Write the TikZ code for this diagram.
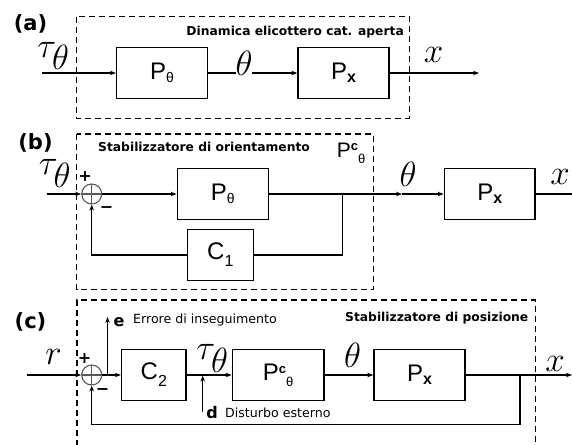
\RequirePackage{fix-cm}
\documentclass[tikz,border=0pt]{standalone}
\usepackage{fontspec}
\usepackage{graphicx}
\setmainfont{Liberation Sans}
\newfontfamily\dvs{DejaVu Sans}
\usetikzlibrary{arrows.meta}
\newcommand\blab[3][-3bp]{{\fontsize{24bp}{26bp}\selectfont #2}\raisebox{#1}{\fontsize{14bp}{16bp}\selectfont #3}}
\newcommand\blabc[1][24bp]{{\fontsize{#1}{26bp}\selectfont P}\raisebox{7bp}{\fontsize{13bp}{15bp}\selectfont\bfseries c}\raisebox{-6bp}{\fontsize{13bp}{15bp}\selectfont θ}}
\tikzset{
  blk/.style={draw, line width=1.5bp, inner sep=0pt, minimum height=51bp},
  sig/.style={line width=1.3bp},
  arr/.style={sig, -{Stealth[length=6bp,width=4.5bp]}},
  frame/.style={line width=1.5bp, dash pattern=on 6bp off 4bp},
  mth/.style={font=\fontsize{35bp}{40bp}\selectfont, inner sep=0pt},
  btext/.style={font=\dvs\bfseries\fontsize{12.3bp}{14bp}\selectfont, inner sep=0pt},
  rtext/.style={font=\dvs\fontsize{12.6bp}{14bp}\selectfont, inner sep=0pt},
  plab/.style={font=\dvs\bfseries\fontsize{21bp}{24bp}\selectfont, inner sep=0pt},
  sgn/.style={font=\dvs\bfseries\fontsize{16bp}{18bp}\selectfont, inner sep=0pt},
  sumc/.style={circle, draw=black!65, line width=1.1bp, minimum size=20bp, inner sep=0pt,
    path picture={\draw[black!65, line width=1.1bp] (path picture bounding box.north) -- (path picture bounding box.south) (path picture bounding box.west) -- (path picture bounding box.east);}}
}
\begin{document}
\begin{tikzpicture}[x=1bp,y=-1bp]
\useasboundingbox[fill=white] (0,0) rectangle (572,445);
% ---------------- (a)
\draw[frame] (76.7,16.7) rectangle (409.3,118.3);
\node[plab] (la) at (30.5,23.5) {(a)};
\node[btext, anchor=east] (ta) at (404,31.7) {Dinamica elicottero cat. aperta};
\node[blk, minimum width=90.6bp] (aP1) at (162,73) {\blab{P}{θ}};
\node[blk, minimum width=91bp] (aP2) at (343.5,73) {\blab{P}{\fontsize{16bp}{16bp}\selectfont\bfseries x}};
\coordinate (ain) at (41.7,73);
\coordinate (aout) at (479,73);
\draw[arr] (ain) -- (aP1);
\draw[arr] (aP1) -- (aP2);
\draw[arr] (aP2) -- (aout);
\node[mth] (atau) at (53.5,56) {$\tau_{\textstyle\theta}$};
\node[mth, fill=white] (ath) at (244,63.5) {$\theta$};
\node[mth] (ax) at (433.5,55) {$x$};
% ---------------- (b)
\draw[frame] (76.7,134) rectangle (373.5,289.5);
\node[plab] (lb) at (35.5,142.5) {(b)};
\node[btext, anchor=west] (tb) at (98,146.7) {Stabilizzatore di orientamento};
\node[inner sep=0pt] (bPc) at (351,153) {\blabc[21bp]};
\node[sumc] (bs) at (91.7,194) {};
\node[blk, minimum width=91bp] (bP1) at (222.8,194) {\blab{P}{θ}};
\node[blk, minimum width=66bp] (bC1) at (220.3,255) {\blab[-7bp]{C}{\fontsize{16bp}{16bp}\selectfont 1}};
\node[blk, minimum width=90.7bp] (bP2) at (489.7,194) {\blab{P}{\fontsize{16bp}{16bp}\selectfont\bfseries x}};
\coordinate (bin) at (46.7,194);
\coordinate (bpk) at (342.7,194);
\coordinate (bmid) at (402,194);
\coordinate (bout) at (572,194);
\draw[arr] (bin) -- (bs.west);
\draw[arr] (bs.east) -- (bP1.west);
\draw[sig] (bP1.east) -- (bpk);
\draw[arr] (bpk) -- (bmid);
\draw[arr] (bmid) -- (bP2.west);
\draw[sig] (bP2.east) -- (bout);
\draw[sig] (bpk) |- (bC1.east);
\draw[arr] (bC1.west) -| (bs.south);
\node[sgn] (bplus) at (85,176.7) {+};
\node[sgn] (bminus) at (106.7,209.3) {−};
\node[mth] (btau) at (55,173.5) {$\tau_{\textstyle\theta}$};
\node[mth] (bth) at (408,174.5) {$\theta$};
\node[mth] (bx) at (560,177) {$x$};
% ---------------- (c)
\draw[frame] (77,446) -- (77,300) -- (535.3,300) -- (535.3,446);
\node[plab] (lc) at (30.5,321.5) {(c)};
\node[sumc] (cs) at (91.7,375) {};
\node[blk, minimum width=64.3bp] (cC2) at (153.8,375) {\blab[-7bp]{C}{\fontsize{16bp}{16bp}\selectfont 2}};
\node[blk, minimum width=91.7bp] (cPc) at (278.2,375) {\blabc};
\node[blk, minimum width=91bp] (cPx) at (419.5,375) {\blab{P}{\fontsize{16bp}{16bp}\selectfont\bfseries x}};
\coordinate (cin) at (26.7,375);
\coordinate (cout) at (572,375);
\coordinate (cpk) at (520,375);
\coordinate (cbr) at (107.5,375);
\coordinate (ce) at (107.5,317);
\coordinate (cd0) at (202.7,412);
\coordinate (cd1) at (202.7,375.6);
\coordinate (cfb) at (520,424.5);
\draw[arr] (cin) -- (cs.west);
\draw[arr] (cs.east) -- (cC2.west);
\draw[arr] (cbr) -- (ce);
\draw[arr] (cC2.east) -- (cPc.west);
\draw[arr] (cPc.east) -- (cPx.west);
\draw[arr] (cPx.east) -- (cout);
\draw[arr] (cpk) -- (cfb) -| (cs.south);
\draw[arr] (cd0) -- (cd1);
\node[sgn] (cplus) at (84.5,358) {+};
\node[sgn] (cminus) at (102.5,391.7) {−};
\node[sgn] (cel) at (119,322) {e};
\node[rtext, anchor=west] (cet) at (133,320) {Errore di inseguimento};
\node[btext, anchor=east] (ctt) at (528.5,318.3) {Stabilizzatore di posizione};
\node[sgn] (cdl) at (212,413) {d};
\node[rtext, anchor=west] (cdt) at (225,413) {Disturbo esterno};
\node[mth] (cr) at (53.5,357) {$r$};
\node[mth] (ctau) at (212.5,358.5) {$\tau_{\textstyle\theta}$};
\node[mth] (cth) at (352.5,355.5) {$\theta$};
\node[mth] (cx) at (555,363.5) {$x$};
\end{tikzpicture}
\end{document}
